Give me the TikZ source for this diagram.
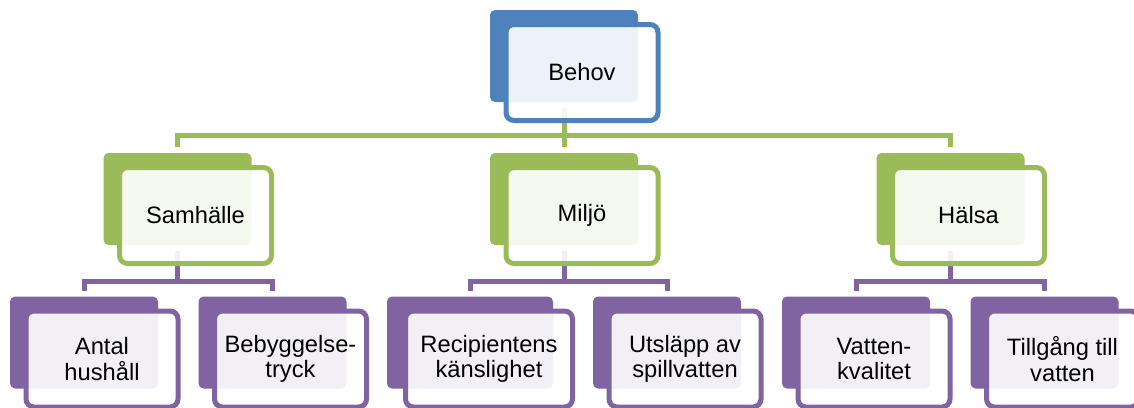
\documentclass[tikz,border=0pt]{standalone}
\usepackage{fontspec}
\setmainfont{Liberation Sans}
\usetikzlibrary{backgrounds}
\definecolor{accblue}{HTML}{4F81BD}
\definecolor{accgreen}{HTML}{9BBB59}
\definecolor{accpurple}{HTML}{8064A2}
\begin{document}
\begin{tikzpicture}[x=1pt, y=-1pt,
    back/.style={fill=#1, rounded corners=5pt, inner sep=0pt, outer sep=0pt,
      minimum width=148pt, minimum height=92pt},
    front/.style={draw=#1, line width=5pt, fill=white, fill opacity=0.9, text opacity=1,
      rounded corners=8pt, inner sep=0pt, outer sep=0pt, minimum width=152pt, minimum height=96pt,
      xshift=18pt, yshift=-16.5pt, align=center, font=\fontsize{23.7}{25.5}\selectfont},
    conn/.style={draw=#1, line width=5pt, shorten <=6pt, shorten >=6pt}]
\useasboundingbox (0,0) rectangle (1134,407);
\clip (0,0) rectangle (1134,407);
% Draw the back boxes
        \node[back=accblue] (behovB) at (564,56) {};
        \node[back=accgreen] (samB) at (177.5,199) {};
        \node[back=accgreen] (milB) at (564,199) {};
        \node[back=accgreen] (halB) at (950.5,199) {};
        \node[back=accpurple] (antB) at (84,342.5) {};
        \node[back=accpurple] (bebB) at (272.5,342.5) {};
        \node[back=accpurple, minimum width=166pt] (recB) at (470,342.5) {};
        \node[back=accpurple] (utsB) at (667,342.5) {};
        \node[back=accpurple] (vatB) at (856,342.5) {};
        \node[back=accpurple] (tilB) at (1044.5,342.5) {};
% Draw the connectors
        \begin{pgfonlayer}{background}
        \draw[conn=accgreen] (behovB.south) -- ++(0,33) -| (samB.north);
        \draw[conn=accgreen] (behovB.south) -- (milB.north);
        \draw[conn=accgreen] (behovB.south) -- ++(0,33) -| (halB.north);
        \draw[conn=accpurple] (samB.south) -- ++(0,36) -| (antB.north);
        \draw[conn=accpurple] (samB.south) -- ++(0,36) -| (bebB.north);
        \draw[conn=accpurple] (milB.south) -- ++(0,36) -| (recB.north);
        \draw[conn=accpurple] (milB.south) -- ++(0,36) -| (utsB.north);
        \draw[conn=accpurple] (halB.south) -- ++(0,36) -| (vatB.north);
        \draw[conn=accpurple] (halB.south) -- ++(0,36) -| (tilB.north);
        \end{pgfonlayer}
% Draw the front boxes
        \node[front=accblue] (behov) at (behovB) {Behov};
        \node[front=accgreen] (sam) at (samB) {Samhälle};
        \node[front=accgreen] (mil) at (milB) {Miljö};
        \node[front=accgreen] (hal) at (halB) {Hälsa};
        \node[front=accpurple] (ant) at (antB) {Antal\\hushåll};
        \node[front=accpurple] (beb) at (bebB) {Bebyggelse-\\tryck};
        \node[front=accpurple, minimum width=167pt, xshift=1pt] (rec) at (recB) {Recipientens\\känslighet};
        \node[front=accpurple] (uts) at (utsB) {Utsläpp av\\spillvatten};
        \node[front=accpurple] (vat) at (vatB) {Vatten-\\kvalitet};
        \node[front=accpurple] (til) at (tilB) {Tillgång till\\vatten};
      \end{tikzpicture}
\end{document}
